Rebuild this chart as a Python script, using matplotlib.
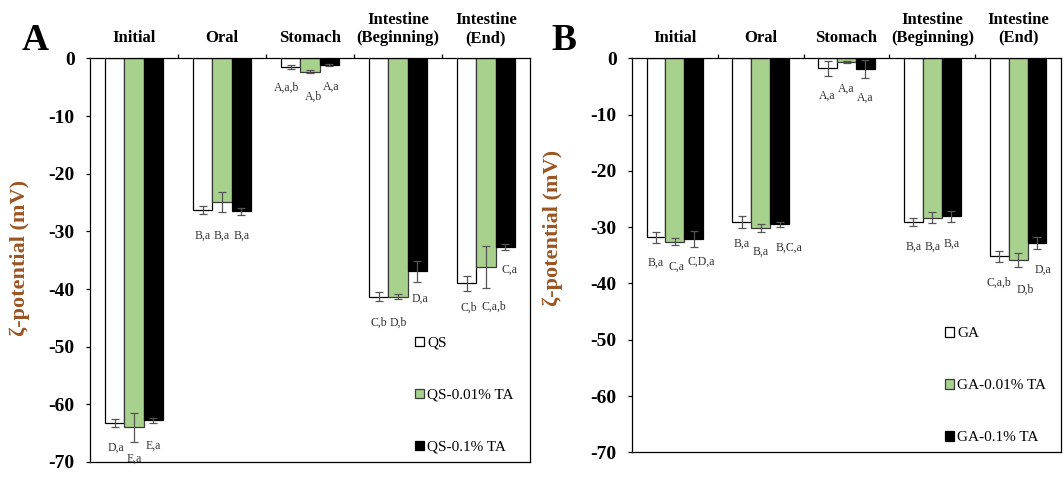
import numpy as np
import matplotlib.pyplot as plt

plt.rcParams['font.family'] = ['Liberation Serif', 'DejaVu Serif']
plt.rcParams['axes.unicode_minus'] = False

# Digestion stages (top category labels)
stages = ['Initial', 'Oral', 'Stomach', 'Intestine\n(Beginning)', 'Intestine\n(End)']

# Panel A: quinoa saponin (QS) emulsions, zeta potential (mV)
qs_names = ['QS', 'QS-0.01% TA', 'QS-0.1% TA']
qs_plain = [-63.2, -26.3, -1.5, -41.3, -39.0]
qs_ta001 = [-64.0, -24.9, -2.3, -41.3, -36.2]
qs_ta01 = [-62.8, -26.5, -1.1, -36.9, -32.7]
qs_plain_err = [0.7, 0.7, 0.4, 0.8, 1.3]
qs_ta001_err = [2.5, 1.8, 0.3, 0.5, 3.6]
qs_ta01_err = [0.5, 0.6, 0.2, 1.8, 0.6]
qs_plain_lab = ['D,a', 'B,a', 'A,a,b', 'C,b', 'C,b']
qs_ta001_lab = ['E,a', 'B,a', 'A,b', 'D,b', 'C,a,b']
qs_ta01_lab = ['E,a', 'B,a', 'A,a', 'D,a', 'C,a']

# Panel B: gum arabic (GA) emulsions, zeta potential (mV)
ga_names = ['GA', 'GA-0.01% TA', 'GA-0.1% TA']
ga_plain = [-31.8, -29.1, -1.8, -29.1, -35.2]
ga_ta001 = [-32.6, -30.1, -0.7, -28.3, -35.8]
ga_ta01 = [-32.1, -29.5, -1.9, -28.1, -32.8]
ga_plain_err = [1.0, 1.0, 1.3, 0.7, 0.9]
ga_ta001_err = [0.6, 0.7, 0.2, 1.0, 1.2]
ga_ta01_err = [1.5, 0.5, 1.6, 0.9, 1.0]
ga_plain_lab = ['B,a', 'B,a', 'A,a', 'B,a', 'C,a,b']
ga_ta001_lab = ['C,a', 'B,a', 'A,a', 'B,a', 'D,b']
ga_ta01_lab = ['C,D,a', 'B,C,a', 'A,a', 'B,a', 'D,a']

# layout: how far below the error bar each letter label sits (data units)
drops_A = [[3.7, 3.7, 3.2, 3.7, 2.9],
           [3.0, 4.1, 4.0, 4.0, 3.3],
           [3.8, 3.6, 3.6, 3.0, 3.3]]
drops_B = [[3.6, 2.8, 3.5, 3.6, 3.8],
           [3.9, 3.6, 4.5, 4.1, 4.1],
           [2.6, 3.7, 3.5, 3.9, 3.8]]
# layout: sideways nudges of the letter labels (pixels)
shift_A = [[1, 0, -4, 0, 2],
           [0, 0, 4, 0, 8],
           [0, 0, 2, 3, 4]]
shift_B = [[0, 0, 0, 0, 0],
           [2, 0, 0, 0, 7],
           [7, 9, 0, 0, 6]]

fills = ['white', '#a9d18e', 'black']
edges = ['black', '#3a3a3a', 'black']
brown = '#9a5524'


def draw_panel(ax, series, errs, labels, drops, shifts, names, ylab_xy, leg_xy):
    x = np.arange(len(stages))
    w = 0.22
    handles = []
    for k in range(3):
        b = ax.bar(x + (k - 1) * w, series[k], w, yerr=errs[k],
                   color=fills[k], edgecolor=edges[k], linewidth=0.9,
                   error_kw=dict(ecolor='#555555', elinewidth=0.9,
                                 capsize=2.6, capthick=0.9),
                   label=names[k], zorder=2)
        handles.append(b)
        for i in range(len(stages)):
            ax.annotate(labels[k][i],
                        xy=(x[i] + (k - 1) * w,
                            series[k][i] - errs[k][i] - drops[k][i]),
                        xytext=(shifts[k][i], 0), textcoords='offset pixels',
                        ha='center', va='center', fontsize=8.5, color='#333333')

    ax.set_xlim(-0.5, len(stages) - 0.5)
    ax.set_ylim(-70, 0)
    ax.set_yticks(range(-70, 1, 10))
    ax.tick_params(axis='y', labelsize=14, length=3, width=0.9, pad=8)
    for t in ax.get_yticklabels():
        t.set_fontweight('bold')

    # category axis lives on the zero line at the top
    ax.xaxis.tick_top()
    ax.set_xticks(x, [])
    ax.set_xticks(x[:-1] + 0.5, minor=True)
    ax.tick_params(axis='x', which='major', length=0)
    ax.tick_params(axis='x', which='minor', length=3, width=0.9, direction='out')
    for i, s in enumerate(stages):
        ax.annotate(s, xy=(x[i], 0), xytext=(0, 9), textcoords='offset points',
                    ha='center', va='bottom', fontsize=12, fontweight='bold',
                    linespacing=1.15, annotation_clip=False)

    for sp in ax.spines.values():
        sp.set_linewidth(0.9)

    ax.set_ylabel('ζ-potential (mV)', fontsize=16, fontweight='bold', color=brown)
    ax.yaxis.set_label_coords(*ylab_xy)

    ax.legend(handles=handles, loc='lower left', bbox_to_anchor=leg_xy,
              frameon=False, fontsize=11, borderpad=0, borderaxespad=0,
              handlelength=0.55, handleheight=0.55, handletextpad=0.25,
              labelspacing=2.55)


fig = plt.figure(figsize=(10.64, 4.84), dpi=100)
axA = fig.add_axes([0.0846, 0.0455, 0.4135, 0.8337])
axB = fig.add_axes([0.594, 0.0655, 0.4032, 0.814])

draw_panel(axA, [qs_plain, qs_ta001, qs_ta01],
           [qs_plain_err, qs_ta001_err, qs_ta01_err],
           [qs_plain_lab, qs_ta001_lab, qs_ta01_lab],
           drops_A, shift_A, qs_names, (-0.136, 0.505), (0.739, 0.02))
draw_panel(axB, [ga_plain, ga_ta001, ga_ta01],
           [ga_plain_err, ga_ta001_err, ga_ta01_err],
           [ga_plain_lab, ga_ta001_lab, ga_ta01_lab],
           drops_B, shift_B, ga_names, (-0.161, 0.57), (0.730, 0.02))

fig.text(35 / 1064, 1 - 41 / 484, 'A', fontsize=27, fontweight='bold',
         ha='center', va='center')
fig.text(564 / 1064, 1 - 41 / 484, 'B', fontsize=27, fontweight='bold',
         ha='center', va='center')

fig.savefig('out.png', dpi=100, facecolor='white')
